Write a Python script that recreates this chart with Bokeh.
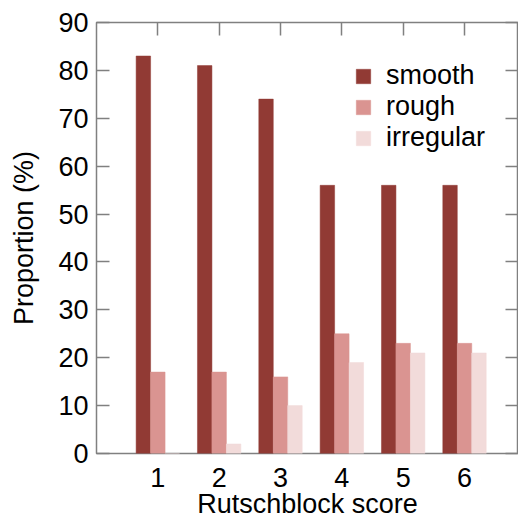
import numpy as np
from bokeh.plotting import figure
from bokeh.models import (Range1d, LinearAxis, FixedTicker, Legend, LegendItem,
                          ColumnDataSource)
from bokeh.embed import file_html
from bokeh.resources import INLINE

categories = ["1", "2", "3", "4", "5", "6"]
series_names = ["smooth", "rough", "irregular"]
smooth = [83, 81, 74, 56, 56, 56]
rough = [17, 17, 16, 25, 23, 23]
irregular = [0, 2, 10, 19, 21, 21]
y_ticks = [0, 10, 20, 30, 40, 50, 60, 70, 80, 90]
colors = ["#913A34", "#DA9491", "#F2DBDA"]

FONT = "Liberation Sans"
FS = "27px"
AXIS_COLOR = "#808080"

xpos = np.arange(1, len(categories) + 1)
bar_w = 0.236
offsets = [-bar_w, 0.0, bar_w]

p = figure(width=518, height=522,
           x_range=Range1d(0.0, 6.88), y_range=Range1d(0, 90),
           output_backend="svg", toolbar_location=None,
           x_axis_location=None, y_axis_location=None,
           min_border_left=96, min_border_right=0,
           min_border_top=22, min_border_bottom=69)
p.grid.visible = False
p.outline_line_color = AXIS_COLOR
p.outline_line_width = 1.5
p.background_fill_color = "white"
p.border_fill_color = "white"

renderers = []
for vals, off, col in zip([smooth, rough, irregular], offsets, colors):
    src = ColumnDataSource(dict(x=xpos + off, top=vals))
    r = p.vbar(x="x", top="top", bottom=0, width=bar_w, source=src,
               fill_color=col, line_color=col, line_width=0.5)
    renderers.append(r)

# left axis
ly = LinearAxis(ticker=FixedTicker(ticks=y_ticks), axis_label="Proportion (%)")
ly.axis_line_color = None
ly.major_tick_in = 13
ly.major_tick_out = 0
ly.major_tick_line_color = AXIS_COLOR
ly.major_tick_line_width = 1.5
ly.minor_tick_line_color = None
ly.major_label_standoff = 8
ly.major_label_text_font = FONT
ly.major_label_text_font_size = FS
ly.major_label_text_color = "black"
ly.axis_label_text_font = FONT
ly.axis_label_text_font_size = FS
ly.axis_label_text_font_style = "normal"
ly.axis_label_text_color = "black"
ly.axis_label_standoff = 16
p.add_layout(ly, "left")

# right axis (ticks only)
ry = LinearAxis(ticker=FixedTicker(ticks=y_ticks))
ry.axis_line_color = None
ry.major_tick_in = 13
ry.major_tick_out = 0
ry.major_tick_line_color = AXIS_COLOR
ry.major_tick_line_width = 1.5
ry.minor_tick_line_color = None
ry.major_label_text_color = None
ry.major_label_standoff = 0
p.add_layout(ry, "right")

# bottom axis (labels only)
bx = LinearAxis(ticker=FixedTicker(ticks=list(xpos)), axis_label="Rutschblock score",
                major_label_overrides={int(x): c for x, c in zip(xpos, categories)})
bx.axis_line_color = None
bx.major_tick_line_color = None
bx.minor_tick_line_color = None
bx.major_tick_in = 0
bx.major_tick_out = 0
bx.major_label_standoff = 14
bx.major_label_text_font = FONT
bx.major_label_text_font_size = FS
bx.major_label_text_color = "black"
bx.axis_label_text_font = FONT
bx.axis_label_text_font_size = FS
bx.axis_label_text_font_style = "normal"
bx.axis_label_text_color = "black"
bx.axis_label_standoff = -1
p.add_layout(bx, "below")

# top axis (ticks only)
tx = LinearAxis(ticker=FixedTicker(ticks=list(xpos)))
tx.axis_line_color = None
tx.major_tick_in = 13
tx.major_tick_out = 0
tx.major_tick_line_color = AXIS_COLOR
tx.major_tick_line_width = 1.5
tx.minor_tick_line_color = None
tx.major_label_text_color = None
tx.major_label_standoff = 0
p.add_layout(tx, "above")

legend = Legend(items=[LegendItem(label=n, renderers=[r]) for n, r in zip(series_names, renderers)],
                location=(258, 300))
legend.border_line_color = None
legend.background_fill_alpha = 0
legend.padding = 0
legend.margin = 0
legend.spacing = 0
legend.glyph_width = 18
legend.glyph_height = 18
legend.label_height = 29
legend.label_standoff = 14
legend.label_text_font = FONT
legend.label_text_font_size = FS
legend.label_text_color = "black"
legend.label_text_line_height = 1.0
p.add_layout(legend, "center")

open("out.html", "w").write(file_html(p, INLINE))
